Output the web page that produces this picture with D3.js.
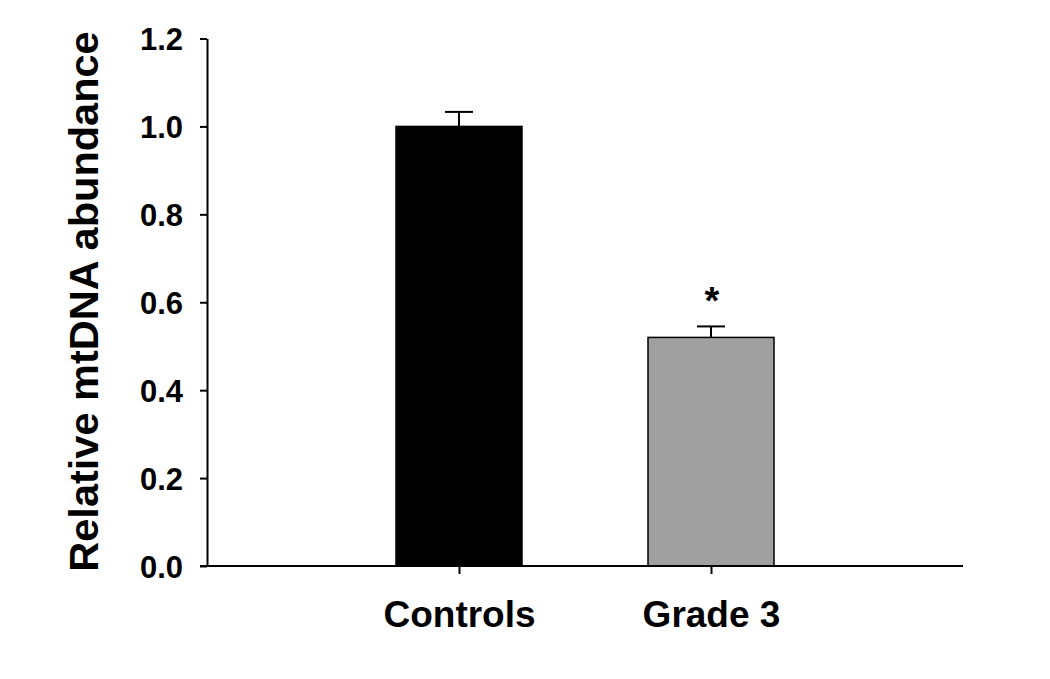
<!DOCTYPE html>
<html lang="en">
<head>
<meta charset="UTF-8">
<title>Relative mtDNA abundance</title>
<script src="https://cdn.jsdelivr.net/npm/d3@7"></script>
<style>
    body { margin: 0; background: #fff; }
    svg text { font-family: Arial, "Liberation Sans", sans-serif; font-weight: bold; fill: #000; }
</style>
</head>
<body>
<div id="chart"></div>
<script>
    const groups = ["Controls", "Grade 3"]
    const means = [1.0, 0.52]
    const errors = [0.033, 0.025]
    const fills = ["#000000", "#a0a0a0"]
    const marks = ["", "*"]
    const yTicks = [0.0, 0.2, 0.4, 0.6, 0.8, 1.0, 1.2]

    const width = 1050
    const height = 679
    const plotLeft = 207, plotRight = 963, plotTop = 38.5, plotBottom = 566

    const svg = d3.select("#chart")
        .append("svg")
        .attr("width", width)
        .attr("height", height)

    const y = d3.scaleLinear().domain([0, 1.2]).range([plotBottom, plotTop])
    const x = d3.scalePoint().domain(groups).range([plotLeft, plotRight]).padding(1)
    const barW = x.step() * 0.5

    // bars
    svg.append("g").selectAll("rect")
        .data(groups)
        .enter()
        .append("rect")
        .attr("x", d => x(d) - barW / 2)
        .attr("y", (d, i) => y(means[i]))
        .attr("width", barW)
        .attr("height", (d, i) => y(0) - y(means[i]))
        .attr("fill", (d, i) => fills[i])
        .attr("stroke", "#000")
        .attr("stroke-width", 1.5)

    // error bars (upper only)
    const eb = svg.append("g").attr("stroke", "#000").attr("stroke-width", 2)
    groups.forEach((g, i) => {
        eb.append("line")
            .attr("x1", x(g)).attr("x2", x(g))
            .attr("y1", y(means[i])).attr("y2", y(means[i] + errors[i]))
        eb.append("line")
            .attr("x1", x(g) - 14).attr("x2", x(g) + 14)
            .attr("y1", y(means[i] + errors[i])).attr("y2", y(means[i] + errors[i]))
    })

    // significance marks
    svg.append("g").selectAll("text")
        .data(groups)
        .enter()
        .append("text")
        .attr("x", d => x(d) + 1)
        .attr("y", (d, i) => y(means[i] + errors[i]) - 12)
        .attr("text-anchor", "middle")
        .attr("font-size", 38)
        .text((d, i) => marks[i])

    // y axis
    const yAxis = svg.append("g")
        .attr("transform", `translate(${plotLeft},0)`)
        .call(d3.axisLeft(y).tickValues(yTicks).tickFormat(d3.format(".1f")).tickSize(7).tickSizeOuter(0))
    yAxis.select(".domain").attr("stroke-width", 2)
    yAxis.selectAll(".tick line").attr("stroke-width", 2)
    yAxis.selectAll(".tick text")
        .attr("x", -24)
        .attr("font-size", 31)
        .attr("dy", "0.36em")
        .style("font-family", "Arial, 'Liberation Sans', sans-serif")
        .style("font-weight", "bold")

    // x axis
    const xAxis = svg.append("g")
        .attr("transform", `translate(0,${plotBottom})`)
        .call(d3.axisBottom(x).tickSize(8).tickSizeOuter(0))
    xAxis.select(".domain").attr("stroke-width", 2)
        .attr("d", `M${plotLeft - 7},0H${plotRight}`)
    xAxis.selectAll(".tick line").attr("stroke-width", 2)
    xAxis.selectAll(".tick text")
        .attr("y", 61)
        .attr("dy", 0)
        .attr("font-size", 37)
        .style("font-family", "Arial, 'Liberation Sans', sans-serif")
        .style("font-weight", "bold")

    // y title
    svg.append("text")
        .attr("transform", `translate(98,${(33 + 570) / 2}) rotate(-90)`)
        .attr("text-anchor", "middle")
        .attr("font-size", 41.5)
        .text("Relative mtDNA abundance")
</script>
</body>
</html>
